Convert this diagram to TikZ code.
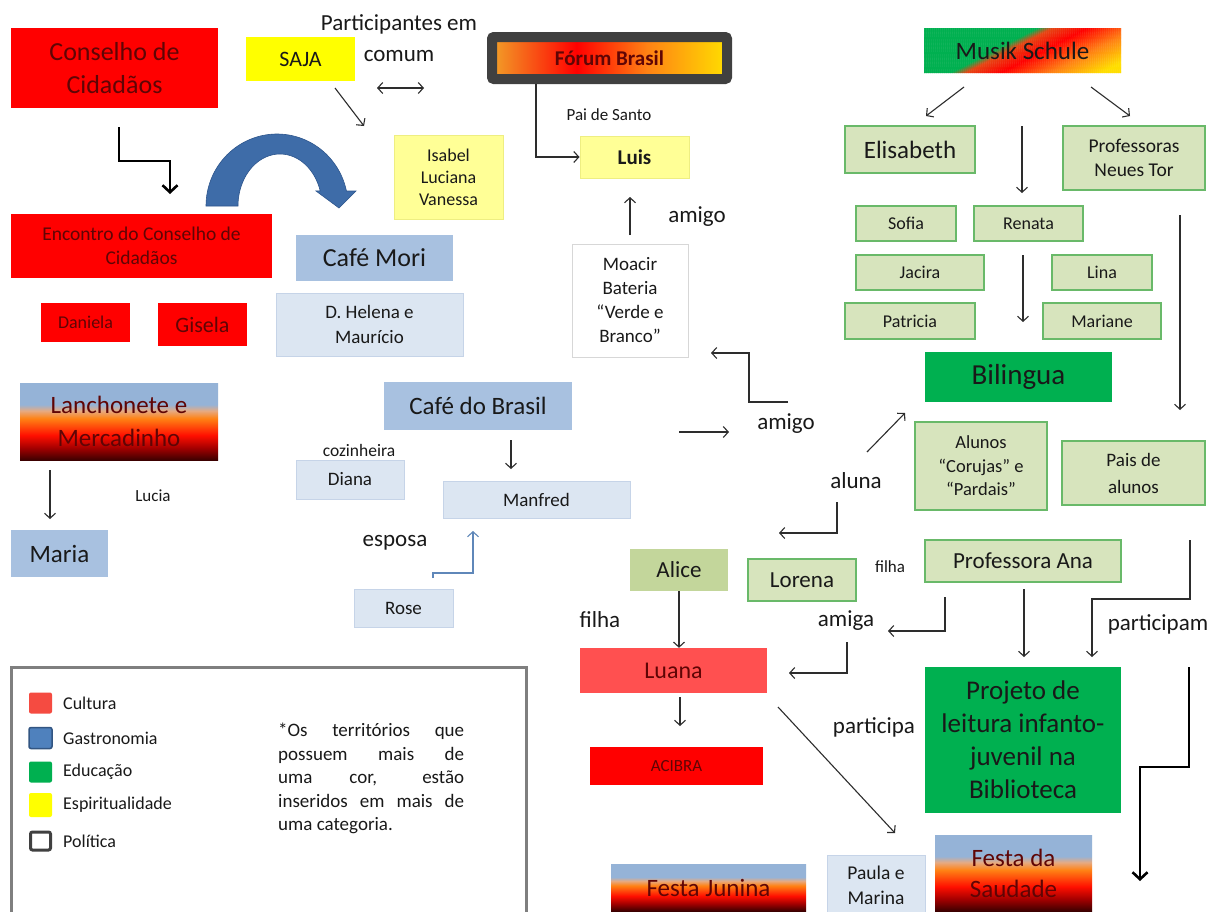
\documentclass[tikz,border=0pt]{standalone}
\usepackage{fontspec}
\setmainfont{Carlito}
\usetikzlibrary{arrows.meta}

\definecolor{txt}{RGB}{25,25,25}
\definecolor{dred}{RGB}{95,5,5}
\definecolor{cred}{RGB}{255,0,0}
\definecolor{lred}{RGB}{255,80,80}
\definecolor{cyel}{RGB}{255,255,0}
\definecolor{lyel}{RGB}{255,255,150}
\definecolor{lyelb}{RGB}{238,238,130}
\definecolor{mblue}{RGB}{168,193,224}
\definecolor{lblue}{RGB}{220,230,242}
\definecolor{lblueb}{RGB}{198,212,232}
\definecolor{cgreen}{RGB}{0,176,80}
\definecolor{lgreen}{RGB}{215,228,189}
\definecolor{lgreenb}{RGB}{105,185,105}
\definecolor{olive}{RGB}{195,214,155}
\definecolor{pol}{RGB}{64,64,64}
\definecolor{arcblue}{RGB}{62,108,168}
\definecolor{arcdark}{RGB}{45,85,140}
\definecolor{linec}{RGB}{45,45,45}
\definecolor{steel}{RGB}{95,135,185}
\definecolor{legb}{RGB}{127,127,127}
\definecolor{cult}{RGB}{245,75,65}
\definecolor{gastro}{RGB}{79,129,189}
\definecolor{gastrob}{RGB}{50,85,130}
\definecolor{moab}{RGB}{215,215,215}
\definecolor{sblue}{RGB}{149,179,215}
\definecolor{spale}{RGB}{230,170,130}
\definecolor{sorange}{RGB}{255,130,20}
\definecolor{sred}{RGB}{255,15,0}
\definecolor{sdred}{RGB}{165,0,0}
\definecolor{sdark}{RGB}{60,0,0}
\definecolor{forA}{RGB}{242,160,40}
\definecolor{fyel}{RGB}{255,222,0}
\definecolor{mred}{RGB}{230,70,20}

\pgfdeclareverticalshading{sunset}{100bp}{color(0bp)=(sdark); color(25bp)=(sdark); color(33bp)=(sdred); color(41bp)=(sred); color(52bp)=(sorange); color(57bp)=(spale); color(61bp)=(sblue); color(100bp)=(sblue)}
\pgfdeclarehorizontalshading{forumsh}{100bp}{color(0bp)=(forA); color(25bp)=(forA); color(43bp)=(cred); color(58bp)=(sorange); color(75bp)=(fyel); color(100bp)=(fyel)}

\newcommand\fz[2]{\fontsize{#1}{#2}\selectfont}
\newcommand\bx[7]{\node[inner sep=0pt, align=center, text=txt, #6, minimum width={#4pt-#2pt}, minimum height={#5pt-#3pt}] (#1) at ({(#2+#4)/2},{(#3+#5)/2}) {#7};}

\tikzset{
  redbox/.style={fill=cred, text=dred},
  lredbox/.style={fill=lred, text=dred},
  yelbox/.style={fill=cyel},
  lyelbox/.style={fill=lyel, draw=lyelb, line width=1pt},
  mbluebox/.style={fill=mblue},
  lbluebox/.style={fill=lblue, draw=lblueb, line width=1pt},
  greenbox/.style={fill=cgreen},
  lgreenbox/.style={fill=lgreen, draw=lgreenb, line width=1.4pt},
  olivebox/.style={fill=olive},
  whitebox/.style={fill=white, draw=moab, line width=1pt},
  sunsetbox/.style={shade, shading=sunset, text=dred},
  lbl/.style={inner sep=0pt, text=txt},
  arr/.style={draw=linec, line width=1.1pt, -{Straight Barb[length=5pt,width=11pt]}},
  tarr/.style={draw=black, line width=2.6pt, -{Straight Barb[length=7pt,width=15pt]}},
  legsq/.style={minimum width=23pt, minimum height=21pt, inner sep=0pt, rounded corners=2pt},
  legtxt/.style={anchor=west, inner sep=0pt, text=txt, font=\fz{18}{22}}
}

\begin{document}
\begin{tikzpicture}[x=1pt,y=-1pt]
\fill[white] (0,0) rectangle (1211,911);
\useasboundingbox (0,0) rectangle (1211,911);

% ---------- top left ----------
\bx{conselho}{11}{28}{218}{108}{redbox, font=\fz{26}{33}}{Conselho de\\Cidadãos}
\bx{saja}{246}{37}{355}{81}{yelbox, font=\fz{22}{26}}{SAJA}
\node[lbl, align=center, font=\fz{23}{31}] (partic) at (399,38) {Participantes em\\comum};
\coordinate (d1) at (377,88); \coordinate (d2) at (424,88);
\draw[arr, {Straight Barb[length=5pt,width=11pt]}-{Straight Barb[length=5pt,width=11pt]}] (d1) -- (d2);
\coordinate (s1) at (335,88); \coordinate (s2) at (364,126);
\draw[arr] (s1) -- (s2);
\bx{isabel}{394}{135}{503}{219}{lyelbox, font=\fz{18}{22}}{Isabel\\Luciana\\Vanessa}

\bx{encontro}{11}{214}{272}{278}{redbox, font=\fz{19.5}{24}}{Encontro do Conselho de\\Cidadãos}
\coordinate (c1) at (119,127);
\draw[tarr] (c1) -- (119,161) -- (170,161) -- (170,194);
\bx{daniela}{41}{303}{130}{342}{redbox, font=\fz{18}{22}}{Daniela}
\bx{gisela}{158}{303}{247}{346}{redbox, font=\fz{22}{26}}{Gisela}

% curved blue arrow
\fill[arcblue, draw=arcdark, line width=0.6pt]
  plot[domain=12:180, samples=60] ({277+71*cos(192-\x)},{206-72*sin(192-\x)})
  -- (356,191) -- (339,208) -- (316,191)
  -- plot[domain=17:180, samples=60] ({280+42*cos(\x)},{206-52*sin(\x)})
  -- cycle;

\bx{cafemori}{296}{235}{453}{281}{mbluebox, font=\fz{26}{30}}{Café Mori}
\bx{helena}{276}{293}{463}{356}{lbluebox, font=\fz{19}{25}}{D. Helena e\\Maurício}

% ---------- top middle ----------
\node[draw=pol, line width=10pt, rounded corners=2pt, shade, shading=forumsh,
      minimum width=235pt, minimum height=42pt, inner sep=0pt, text=dred,
      font=\bfseries\fz{21}{24}] (forum) at (609.5,58) {Fórum Brasil};
\node[lbl, font=\fz{17}{20}] (paisanto) at (609,115) {Pai de Santo};
\bx{luis}{580}{136}{689}{178}{lyelbox, font=\bfseries\fz{21}{24}}{Luis}
\coordinate (f1) at (536,84);
\draw[arr] (f1) |- (luis.west);
\bx{moacir}{572}{244}{688}{357}{whitebox, font=\fz{19}{24}}{Moacir\\Bateria\\“Verde e\\Branco”}
\coordinate (m1) at (630,235); \coordinate (m2) at (630,197);
\draw[arr] (m1) -- (m2);
\node[lbl, font=\fz{23}{26}] (amigo1) at (697,217) {amigo};
\coordinate (a1) at (788,402); \coordinate (a2) at (711,353);
\draw[arr] (a1) -- (749,402) -- (749,353) -- (a2);
\node[lbl, font=\fz{23}{26}] (amigo2) at (786,424) {amigo};
\coordinate (b1) at (679,432); \coordinate (b2) at (729,432);
\draw[arr] (b1) -- (b2);

% ---------- right column ----------
\begin{scope}
  \clip (924,28) rectangle (1121,73);
  \foreach \g in {830,832,...,1126}{
    \ifdim\g pt<950pt \def\col{cgreen}\else
    \ifdim\g pt<965pt \pgfmathsetmacro\p{(\g-950)/15*100}\edef\col{mred!\p!cgreen}\else
    \ifdim\g pt<1000pt \pgfmathsetmacro\p{(\g-965)/35*100}\edef\col{cred!\p!mred}\else
    \ifdim\g pt<1050pt \pgfmathsetmacro\p{(\g-1000)/50*100}\edef\col{sorange!\p!cred}\else
    \ifdim\g pt<1100pt \pgfmathsetmacro\p{(\g-1050)/50*100}\edef\col{fyel!\p!sorange}\else
    \def\col{fyel}\fi\fi\fi\fi\fi
    \fill[fill=\col] (\g,73) -- ({\g+87},28) -- ({\g+89.6},28) -- ({\g+2.6},73) -- cycle;
  }
\end{scope}
\node[minimum width=197pt, minimum height=45pt, inner sep=0pt, text=txt, font=\fz{25}{28}] (musik) at (1022.5,50.5) {Musik Schule};
\coordinate (ms1) at (964,87); \coordinate (ms2) at (926,116);
\coordinate (ms3) at (1091,87); \coordinate (ms4) at (1130,116);
\draw[arr] (ms1) -- (ms2);
\draw[arr] (ms3) -- (ms4);
\bx{elisabeth}{845}{126}{975}{173}{lgreenbox, font=\fz{25}{28}}{Elisabeth}
\coordinate (e1) at (1022,126); \coordinate (e2) at (1022,193);
\draw[arr] (e1) -- (e2);
\bx{profs}{1063}{126}{1205}{190}{lgreenbox, font=\fz{19.5}{24}}{Professoras\\Neues Tor}
\bx{sofia}{856}{206}{956}{241}{lgreenbox, font=\fz{18}{21}}{Sofia}
\bx{renata}{974}{206}{1083}{241}{lgreenbox, font=\fz{18}{21}}{Renata}
\bx{jacira}{856}{255}{984}{290}{lgreenbox, font=\fz{18}{21}}{Jacira}
\bx{lina}{1052}{255}{1152}{290}{lgreenbox, font=\fz{18}{21}}{Lina}
\bx{patricia}{845}{303}{975}{339}{lgreenbox, font=\fz{18}{21}}{Patricia}
\bx{mariane}{1043}{303}{1161}{339}{lgreenbox, font=\fz{18}{21}}{Mariane}
\coordinate (r1) at (1023,255); \coordinate (r2) at (1023,322);
\draw[arr] (r1) -- (r2);
\coordinate (p1) at (1180,215); \coordinate (p2) at (1180,410);
\draw[arr] (p1) -- (p2);
\bx{bilingua}{925}{352}{1112}{402}{greenbox, font=\fz{29}{32}}{Bilingua}
\coordinate (al1) at (867,452); \coordinate (al2) at (905,413);
\draw[arr] (al1) -- (al2);
\node[lbl, font=\fz{23}{26}] (aluna) at (856,481) {aluna};
\coordinate (al3) at (837,502); \coordinate (al4) at (779,533);
\draw[arr] (al3) |- (al4);
\bx{alunos}{915}{422}{1047}{510}{lgreenbox, font=\fz{18.5}{23.5}}{Alunos\\“Corujas” e\\“Pardais”}
\bx{pais}{1062}{441}{1205}{505}{lgreenbox, font=\fz{19}{27}}{Pais de\\alunos}
\bx{ana}{925}{540}{1121}{582}{lgreenbox, font=\fz{23}{26}}{Professora Ana}
\node[lbl, font=\fz{17}{20}] (filha1) at (890,567) {filha};
\bx{lorena}{748}{559}{856}{601}{lgreenbox, font=\fz{23}{26}}{Lorena}
\bx{alice}{630}{549}{728}{591}{olivebox, font=\fz{23}{26}}{Alice}
\node[lbl, font=\fz{23}{26}] (filha2) at (600,620) {filha};
\coordinate (am1) at (945,597); \coordinate (am2) at (888,631);
\draw[arr] (am1) |- (am2);
\node[lbl, font=\fz{23}{26}] (amiga) at (846,621) {amiga};
\coordinate (am3) at (847,642); \coordinate (am4) at (789,673);
\draw[arr] (am3) |- (am4);
\coordinate (an1) at (1024,589); \coordinate (an2) at (1024,657);
\draw[arr] (an1) -- (an2);
\coordinate (pa1) at (1190,540); \coordinate (pa2) at (1092,657);
\draw[arr] (pa1) -- (1190,599) -- (1092,599) -- (pa2);
\node[lbl, font=\fz{23}{26}] (participam) at (1158,624) {participam};
\bx{projeto}{925}{667}{1121}{813}{greenbox, font=\fz{27}{33}}{Projeto de\\leitura infanto-\\juvenil na\\Biblioteca}
\node[lbl, font=\fz{23}{26}] (participa) at (874,727) {participa};
\coordinate (t1) at (1189,667); \coordinate (t2) at (1140,881);
\draw[tarr] (t1) -- (1189,767) -- (1140,767) -- (t2);

% ---------- bottom middle ----------
\bx{luana}{580}{648}{767}{693}{lredbox, font=\fz{24}{27}}{Luana}
\draw[arr] (alice.south) -- (alice.south |- luana.north);
\coordinate (l1) at (680,697); \coordinate (l2) at (680,726);
\draw[arr] (l1) -- (l2);
\bx{acibra}{590}{747}{763}{785}{redbox, font=\fz{17}{20}}{ACIBRA}
\coordinate (l3) at (778,707); \coordinate (l4) at (895,833);
\draw[arr] (l3) -- (l4);
\node[sunsetbox, minimum width=195pt, minimum height=47pt, inner sep=0pt, font=\fz{25}{28}] (junina) at (708.5,887.5) {Festa Junina};
\bx{paula}{827}{855}{925}{916}{lbluebox, font=\fz{19.5}{25}}{Paula e\\Marina}
\node[sunsetbox, minimum width=157pt, minimum height=76pt, inner sep=0pt, align=center, font=\fz{25}{31}] (saudade) at (1013.5,873) {Festa da\\Saudade};

% ---------- left middle ----------
\node[sunsetbox, minimum width=198pt, minimum height=77pt, inner sep=0pt, align=center, font=\fz{25}{33}] (lanch) at (119,421.5) {Lanchonete e\\Mercadinho};
\bx{maria}{11}{530}{108}{577}{mbluebox, font=\fz{25}{28}}{Maria}
\coordinate (lm1) at (50,470); \coordinate (lm2) at (50,519);
\draw[arr] (lm1) -- (lm2);
\node[lbl, font=\fz{17}{20}] (lucia) at (153,496) {Lucia};
\bx{cafebr}{384}{382}{572}{430}{mbluebox, font=\fz{25}{28}}{Café do Brasil}
\node[lbl, font=\fz{17.5}{20}] (cozinheira) at (359,450) {cozinheira};
\bx{diana}{296}{460}{404}{499}{lbluebox, font=\fz{19}{22}}{Diana}
\bx{manfred}{443}{481}{630}{518}{lbluebox, font=\fz{19}{22}}{Manfred}
\coordinate (cb1) at (511,440); \coordinate (cb2) at (511,469);
\draw[arr] (cb1) -- (cb2);
\node[lbl, font=\fz{23}{26}] (esposa) at (395,543) {esposa};
\bx{rose}{354}{589}{453}{627}{lbluebox, font=\fz{19}{22}}{Rose}
\coordinate (ro1) at (433,578); \coordinate (ro2) at (473,531);
\draw[arr, draw=steel] (ro1) -- (433,573) -- (473,573) -- (ro2);

% ---------- legend ----------
\node[draw=legb, line width=3pt, minimum width=515pt, minimum height=260pt, inner sep=0pt] (legend) at (268.5,797) {};
\node[legsq, fill=cult] (lc) at (40.5,703) {};
\node[legtxt] at (63,703) {Cultura};
\node[legsq, fill=gastro, draw=gastrob, line width=1.5pt] (lg) at (40.5,738) {};
\node[legtxt] at (63,738) {Gastronomia};
\node[legsq, fill=cgreen] (le) at (40.5,772) {};
\node[legtxt] at (63,772) {Educação};
\node[legsq, fill=cyel, minimum height=24pt] (ls) at (40.5,805) {};
\node[legtxt] at (63,805) {Espiritualidade};
\node[legsq, fill=white, draw=pol, line width=3pt, minimum width=20pt, minimum height=18pt] (lp) at (40.5,841) {};
\node[legtxt] at (63,841) {Política};
\node[anchor=north west, inner sep=0pt, text width=186pt, align=justify, text=txt, font=\fz{19}{23.5}] (note) at (278,723)
  {*Os territórios que\linebreak possuem mais de\linebreak uma cor, estão\linebreak inseridos em mais de\linebreak uma categoria.};
\end{tikzpicture}
\end{document}
